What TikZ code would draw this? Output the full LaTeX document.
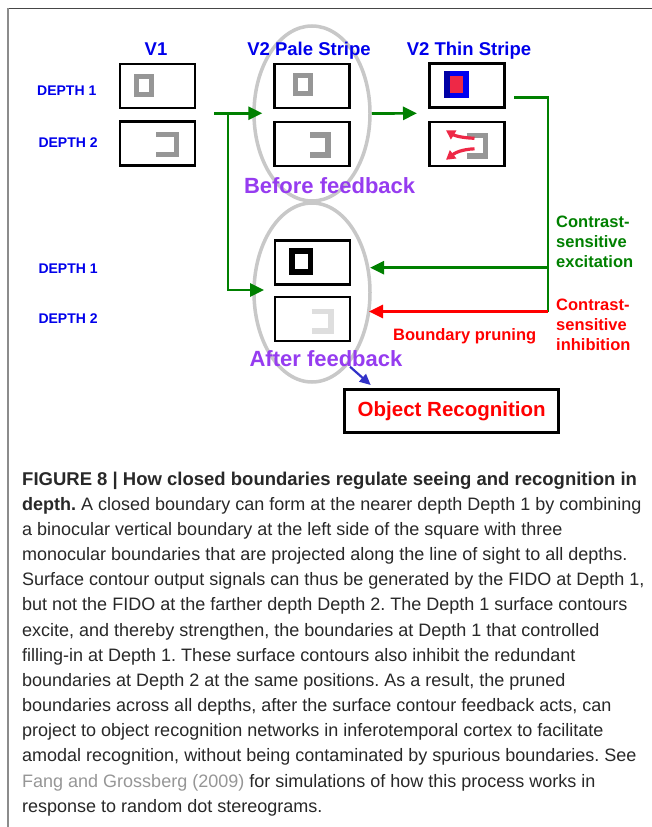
\documentclass[tikz,border=0pt]{standalone}
\usepackage{fontspec}
\setmainfont{Liberation Sans}
\usetikzlibrary{shapes.geometric,arrows.meta}

\definecolor{lblblue}{RGB}{0,0,235}
\definecolor{dgreen}{RGB}{0,128,0}
\definecolor{pred}{RGB}{255,0,0}
\definecolor{fbpurple}{RGB}{150,60,240}
\definecolor{sqgray}{RGB}{150,150,150}
\definecolor{ellgray}{RGB}{200,200,200}
\definecolor{faintgray}{RGB}{222,222,222}
\definecolor{pinkred}{RGB}{238,40,70}
\definecolor{brightblue}{RGB}{0,0,240}
\definecolor{navyblue}{RGB}{0,0,165}
\definecolor{arrowblue}{RGB}{50,50,200}
\definecolor{captext}{RGB}{40,40,40}
\definecolor{linkgray}{RGB}{150,150,150}
\definecolor{frametop}{RGB}{70,70,70}
\definecolor{frameleft}{RGB}{140,140,140}

\frenchspacing

\begin{document}
\begin{tikzpicture}[x=1pt,y=-1pt,
  stagebox/.style={draw=black, line width=2.5pt, minimum width=75pt,
    minimum height=44pt, inner sep=0pt},
  stagelbl/.style={text=lblblue, font=\bfseries\fontsize{18.5}{20}\selectfont,
    inner sep=0pt, anchor=base},
  depthlbl/.style={text=lblblue, font=\bfseries\fontsize{14}{16}\selectfont,
    inner sep=0pt, anchor=base west},
  fblbl/.style={text=fbpurple, font=\bfseries\fontsize{22}{24}\selectfont,
    inner sep=0pt, anchor=base},
  sidelbl/.style={font=\bfseries\fontsize{16.5}{20}\selectfont,
    inner sep=0pt, align=left, anchor=north west},
  grouping/.style={draw=ellgray, line width=3.5pt, ellipse,
    minimum width=116pt, inner sep=0pt},
  gline/.style={draw=dgreen, line width=2.7pt},
  garrow/.style={gline, -{Triangle[length=14pt,width=13pt]}},
  rarrow/.style={draw=pred, line width=2.7pt, -{Triangle[length=14pt,width=13pt]}},
  splitarrow/.style={draw=pinkred, line width=3.2pt, -{Triangle[length=9pt,width=10pt]}},
  outline/.style={line width=5pt},
  bracket/.style={line width=5.7pt, line cap=butt, line join=miter},
  caption/.style={text=captext, font=\fontsize{18}{20}\selectfont,
    inner sep=0pt, anchor=base west}
]
\useasboundingbox (0,0) rectangle (652,827);
\fill[white] (0,0) rectangle (652,827);

% page frame
\draw[frametop, line width=1.5pt] (7,8.5) -- (652,8.5);
\draw[frameleft, line width=2pt] (7.5,8) -- (7.5,827);

% grouping ellipses
\node[grouping, minimum height=175pt] (before) at (312,113.5) {};
\node[grouping, minimum height=179pt] (after) at (312,292.5) {};

% column titles
\node[stagelbl] (tv1) at (156,55) {V1};
\node[stagelbl] (tpale) at (309,55) {V2 Pale Stripe};
\node[stagelbl] (tthin) at (469,55) {V2 Thin Stripe};

% depth labels
\node[depthlbl] (d1top) at (37,95.7) {DEPTH 1};
\node[depthlbl] (d2top) at (38.3,147) {DEPTH 2};
\node[depthlbl] (d1bot) at (38.3,273) {DEPTH 1};
\node[depthlbl] (d2bot) at (38.3,323.6) {DEPTH 2};

% stage boxes
\node[stagebox] (v1a) at (157.5,86) {};
\node[stagebox] (v1b) at (157.5,143.5) {};
\node[stagebox] (pa) at (312,86) {};
\node[stagebox] (pb) at (312,143.8) {};
\node[stagebox] (ta) at (467,85.5) {};
\node[stagebox] (tb) at (467,143.8) {};
\node[stagebox] (aa) at (312.5,262.5) {};
\node[stagebox] (ab) at (312.5,319.2) {};

% V1 contents
\begin{scope}[shift={(v1a.center)}]
  \draw[sqgray, outline] (-21,-9.5) rectangle (-6,8.5);
\end{scope}
\begin{scope}[shift={(v1b.center)}]
  \draw[sqgray, bracket] (-1.5,-8.95) -- (18.95,-8.95) -- (18.95,10.95) -- (-1.5,10.95);
\end{scope}

% V2 pale stripe contents
\begin{scope}[shift={(pa.center)}]
  \draw[sqgray, outline] (-16.2,-11) rectangle (-1.2,7);
\end{scope}
\begin{scope}[shift={(pb.center)}]
  \draw[sqgray, bracket] (-2,-8.95) -- (16.15,-8.95) -- (16.15,11.35) -- (-2,11.35);
\end{scope}

% V2 thin stripe contents
\begin{scope}[shift={(ta.center)}]
  \fill[brightblue] (-23.5,-15) rectangle (1.5,12);
  \fill[navyblue] (-23.5,-15) rectangle (-17.5,12);
  \fill[pinkred] (-17.5,-10) rectangle (-4.5,7.5);
\end{scope}
\begin{scope}[shift={(tb.center)}]
  \draw[sqgray, bracket] (-0.3,-8.35) -- (18.45,-8.35) -- (18.45,11.95) -- (-0.3,11.95);
  \draw[splitarrow] (7.5,-5.5) .. controls (-5,-6) and (-12,-8) .. (-21,-13.5);
  \draw[splitarrow] (7.5,5) .. controls (-5,5.5) and (-12,9) .. (-21,16);
\end{scope}

% after-feedback contents
\begin{scope}[shift={(aa.center)}]
  \draw[black, line width=5.6pt] (-20.4,-11.3) rectangle (-2,9.7);
\end{scope}
\begin{scope}[shift={(ab.center)}]
  \draw[faintgray, bracket] (-0.8,-7.65) -- (18.65,-7.65) -- (18.65,11.95) -- (-0.8,11.95);
\end{scope}

% feedforward connections
\coordinate (ffstart) at (214,113.3);
\coordinate (ffsplit) at (228,113.3);
\coordinate (ffpale) at (262.3,113.3);
\coordinate (ffcorner) at (228,290);
\coordinate (ffafter) at (264,290);
\coordinate (ffthin) at (417,113.3);
\draw[garrow] (ffstart) -- (ffpale);
\draw[garrow] (ffsplit) -- (ffcorner) -- (ffafter);
\draw[garrow] (before.east) -- (ffthin);

% feedback from the thin stripe
\coordinate (fbstart) at (514,97.3);
\coordinate (fbcorner) at (548,97.3);
\coordinate (fbexc) at (548,267.7);
\coordinate (fbinh) at (548,311.5);
\coordinate (exctip) at (370,267.7);
\coordinate (inhtip) at (369,311.5);
\draw[gline] (fbstart) -- (fbcorner) -- (fbinh);
\draw[garrow] (fbexc) -- (exctip);
\draw[rarrow] (fbinh) -- (inhtip);

% group labels
\node[fblbl] (lbefore) at (329.6,193.3) {Before feedback};
\node[fblbl] (lafter) at (326,366.7) {After feedback};

% side labels
\node[sidelbl, text=dgreen] (lexc) at (556,216.1) {Contrast-\\sensitive\\excitation};
\node[sidelbl, text=pred] (linh) at (556,298.5) {Contrast-\\sensitive\\inhibition};
\node[text=pred, font=\bfseries\fontsize{16.5}{20}\selectfont, inner sep=0pt,
  anchor=base] (lprune) at (464.7,340) {Boundary pruning};

% output to recognition
\node[draw=black, line width=3pt, minimum width=213.7pt, minimum height=43pt,
  inner sep=0pt, text=pred, font=\bfseries\fontsize{20.5}{22}\selectfont]
  (objrec) at (451.7,411.3) {Object Recognition};
\coordinate (recstart) at (350,366.7);
\coordinate (rectip) at (370.7,385);
\draw[arrowblue, line width=2.2pt, -{Triangle[length=11pt,width=10pt]}]
  (recstart) -- (rectip);

% figure caption
\foreach \capline [count=\i] in {
  {{\fontsize{18.5}{20}\selectfont\textbf{FIGURE 8 | How closed boundaries regulate seeing and recognition in}}},
  {\textbf{depth.} A closed boundary can form at the nearer depth Depth 1 by combining},
  {a binocular vertical boundary at the left side of the square with three},
  {monocular boundaries that are projected along the line of sight to all depths.},
  {Surface contour output signals can thus be generated by the FIDO at Depth 1,},
  {but not the FIDO at the farther depth Depth 2. The Depth 1 surface contours},
  {excite, and thereby strengthen, the boundaries at Depth 1 that controlled},
  {filling-in at Depth 1. These surface contours also inhibit the redundant},
  {boundaries at Depth 2 at the same positions. As a result, the pruned},
  {boundaries across all depths, after the surface contour feedback acts, can},
  {project to object recognition networks in inferotemporal cortex to facilitate},
  {amodal recognition, without being contaminated by spurious boundaries. See},
  {{\color{linkgray}Fang and Grossberg (2009)} for simulations of how this process works in},
  {response to random dot stereograms.}
}{
  \node[caption] (cap\i) at (22,{485+(\i-1)*25.18}) {\capline};
}
\end{tikzpicture}
\end{document}
